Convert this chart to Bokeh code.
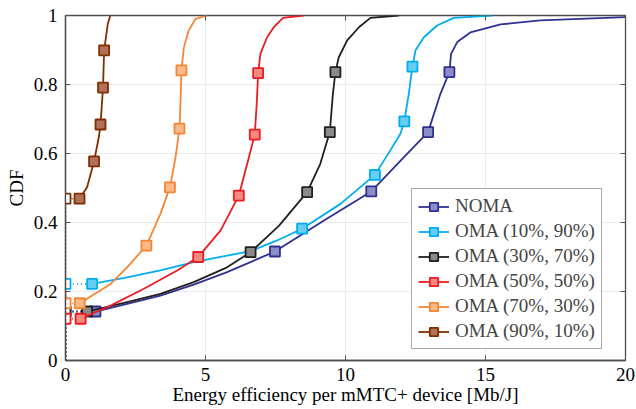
from bokeh.plotting import figure
from bokeh.models import Range1d, LinearAxis, FixedTicker, Legend, LegendItem
from bokeh.embed import file_html
from bokeh.resources import INLINE

# ---------------- data ----------------
labels = ["NOMA", "OMA (10%, 90%)", "OMA (30%, 70%)", "OMA (50%, 50%)",
          "OMA (70%, 30%)", "OMA (90%, 10%)"]

# CDF value at zero efficiency (outage mass)
start_cdf = [0.142, 0.222, 0.142, 0.121, 0.166, 0.469]

# curves
noma_x = [1.07, 2.2, 3.39, 4.58, 5.77, 7.48, 9.23, 10.92, 12.2, 12.95, 13.39, 13.71, 13.77, 13.99, 14.46, 15.54, 16.96, 20]
noma_y = [0.142, 0.164, 0.188, 0.22, 0.256, 0.316, 0.406, 0.49, 0.599, 0.662, 0.773, 0.836, 0.889, 0.923, 0.951, 0.974, 0.986, 0.995]

o10_x = [0.95, 2.2, 3.39, 4.58, 5.77, 6.61, 7.56, 8.45, 9.82, 11.05, 11.6, 11.96, 12.1, 12.26, 12.39, 12.5, 12.8, 13.27, 13.87, 15.24]
o10_y = [0.222, 0.241, 0.261, 0.285, 0.304, 0.317, 0.348, 0.382, 0.454, 0.538, 0.609, 0.657, 0.693, 0.773, 0.852, 0.899, 0.937, 0.971, 0.993, 1.0]

o30_x = [0.77, 2.2, 3.39, 4.58, 5.77, 6.61, 7.62, 8.63, 9.1, 9.44, 9.55, 9.64, 9.76, 10.06, 10.48, 10.89, 11.9]
o30_y = [0.142, 0.169, 0.193, 0.227, 0.27, 0.314, 0.39, 0.488, 0.57, 0.662, 0.773, 0.836, 0.879, 0.928, 0.966, 0.993, 1.0]

o50_x = [0.54, 1.61, 2.8, 3.99, 4.74, 5.54, 6.19, 6.49, 6.76, 6.83, 6.88, 6.96, 7.2, 7.44, 7.77, 8.51]
o50_y = [0.121, 0.159, 0.208, 0.261, 0.3, 0.377, 0.478, 0.57, 0.655, 0.745, 0.833, 0.889, 0.937, 0.966, 0.993, 1.0]

o70_x = [0.51, 1.61, 2.2, 2.89, 3.39, 3.73, 3.93, 4.07, 4.11, 4.14, 4.23, 4.4, 4.64, 5.06]
o70_y = [0.166, 0.222, 0.27, 0.333, 0.425, 0.502, 0.589, 0.672, 0.757, 0.841, 0.908, 0.957, 0.99, 1.0]

o90_x = [0.5, 0.77, 1.02, 1.19, 1.25, 1.34, 1.38, 1.51, 1.6]
o90_y = [0.469, 0.502, 0.577, 0.647, 0.684, 0.791, 0.899, 0.976, 1.0]

# marker positions
noma_mx = [1.07, 7.48, 10.92, 12.95, 13.71]
noma_my = [0.142, 0.316, 0.49, 0.662, 0.836]
o10_mx = [0.95, 8.45, 11.05, 12.1, 12.39]
o10_my = [0.222, 0.382, 0.538, 0.693, 0.852]
o30_mx = [0.77, 6.61, 8.63, 9.44, 9.64]
o30_my = [0.142, 0.314, 0.488, 0.662, 0.836]
o50_mx = [0.54, 4.74, 6.19, 6.76, 6.88]
o50_my = [0.121, 0.3, 0.478, 0.655, 0.833]
o70_mx = [0.51, 2.89, 3.73, 4.07, 4.14]
o70_my = [0.166, 0.333, 0.502, 0.672, 0.841]
o90_mx = [0.5, 1.02, 1.25, 1.34, 1.38]
o90_my = [0.469, 0.577, 0.684, 0.791, 0.899]

x_ticks = [0, 5, 10, 15, 20]
y_ticks = [0, 0.2, 0.4, 0.6, 0.8, 1]
y_tick_labels = ["0", "0.2", "0.4", "0.6", "0.8", "1"]

curves_x = [noma_x, o10_x, o30_x, o50_x, o70_x, o90_x]
curves_y = [noma_y, o10_y, o30_y, o50_y, o70_y, o90_y]
marks_x = [noma_mx, o10_mx, o30_mx, o50_mx, o70_mx, o90_mx]
marks_y = [noma_my, o10_my, o30_my, o50_my, o70_my, o90_my]

line_colors = ["#2E3192", "#00AEEF", "#231F20", "#ED1C24", "#F58634", "#7F2F00"]
fill_colors = ["#8C8CC8", "#66CEF5", "#8A8A8A", "#F28B7E", "#FBB98A", "#B0705A"]

FONT = "Liberation Serif"

p = figure(width=636, height=409, output_backend="svg", toolbar_location=None,
           x_range=Range1d(0, 20), y_range=Range1d(0, 1),
           min_border_left=65, min_border_right=11, min_border_top=15, min_border_bottom=49)

p.background_fill_color = "white"
p.border_fill_color = "white"
p.outline_line_color = "#4D4D4D"
p.outline_line_width = 1.3

for ax, ticks in ((p.xaxis[0], x_ticks), (p.yaxis[0], y_ticks)):
    ax.ticker = FixedTicker(ticks=ticks)
    ax.major_tick_in = 5
    ax.major_tick_out = 0
    ax.minor_tick_line_color = None
    ax.major_tick_line_color = "#555555"
    ax.axis_line_color = "#4D4D4D"
    ax.axis_line_width = 1.3
    ax.major_label_text_font = FONT
    ax.major_label_text_font_size = "19px"
    ax.major_label_text_color = "black"
    ax.axis_label_text_font = FONT
    ax.axis_label_text_font_size = "19px"
    ax.axis_label_text_font_style = "normal"
    ax.axis_label_text_color = "black"

p.yaxis[0].major_label_overrides = {t: l for t, l in zip(y_ticks, y_tick_labels)}
p.xaxis[0].axis_label = "Energy efficiency per mMTC+ device [Mb/J]"
p.yaxis[0].axis_label = "CDF"
p.xaxis[0].major_label_standoff = 7
p.yaxis[0].major_label_standoff = 8
p.xaxis[0].axis_label_standoff = 0
p.yaxis[0].axis_label_standoff = 4

# top and right axes: inner ticks only, labels not painted
top = LinearAxis(ticker=FixedTicker(ticks=x_ticks), major_tick_in=5, major_tick_out=0,
                 minor_tick_line_color=None, major_label_text_font_size="1px",
                 major_label_text_color=None, major_label_standoff=0,
                 axis_line_color=None, major_tick_line_color="#555555")
right = LinearAxis(ticker=FixedTicker(ticks=y_ticks), major_tick_in=5, major_tick_out=0,
                   minor_tick_line_color=None, major_label_text_font_size="1px",
                   major_label_text_color=None, major_label_standoff=0,
                   axis_line_color=None, major_tick_line_color="#555555")
p.add_layout(top, "above")
p.add_layout(right, "right")

p.xgrid.ticker = FixedTicker(ticks=x_ticks)
p.ygrid.ticker = FixedTicker(ticks=y_ticks)
p.xgrid.grid_line_color = "#EBEBEB"
p.ygrid.grid_line_color = "#EBEBEB"

items = []
for i in range(len(labels)):
    lc, fc = line_colors[i], fill_colors[i]
    cx, cy = curves_x[i], curves_y[i]
    p0 = start_cdf[i]
    # dotted part: vertical at zero, then to first point
    p.line(x=[0, 0, cx[0]], y=[0, p0, cy[0]], line_color=lc, line_width=1.8, line_dash="1 3")
    lr = p.line(x=cx, y=cy, line_color=lc, line_width=1.8, line_join="round")
    p.scatter(x=[0], y=[p0], marker="square", size=10, fill_color="white",
              line_color=lc, line_width=1.8)
    sr = p.scatter(x=marks_x[i], y=marks_y[i], marker="square", size=10,
                   fill_color=fc, line_color=lc, line_width=1.8)
    items.append(LegendItem(label=labels[i], renderers=[lr, sr]))

legend = Legend(items=items, location=(346, 11))
legend.border_line_color = "#555555"
legend.border_line_width = 1
legend.background_fill_alpha = 1
legend.label_text_font = FONT
legend.label_text_font_size = "19px"
legend.glyph_width = 31
legend.glyph_height = 21
legend.label_height = 21
legend.spacing = 3
legend.padding = 6
legend.margin = 0
legend.label_standoff = 6
p.add_layout(legend)

open("out.html", "w").write(file_html(p, INLINE))
